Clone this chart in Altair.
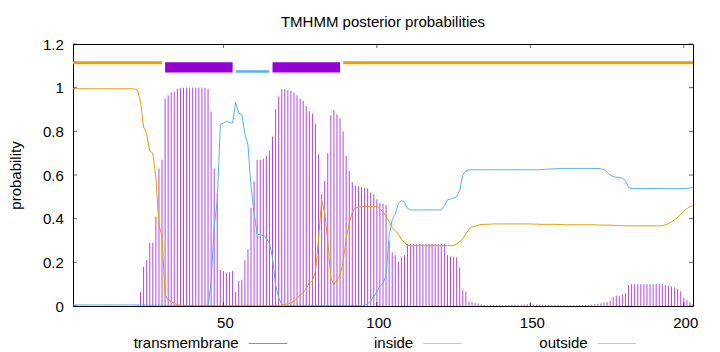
import altair as alt
import pandas as pd

# ---------------- data ----------------
positions = list(range(1, 204))

transmembrane = [
    0, 0, 0, 0, 0, 0, 0, 0, 0, 0,
    0, 0, 0, 0, 0, 0, 0, 0, 0, 0,
    0.001, 0.003, 0.065, 0.18, 0.21, 0.29, 0.29, 0.41, 0.63, 0.67,
    0.95, 0.965, 0.978, 0.982, 0.996, 0.998, 0.999, 1.0, 1.0, 1.0,
    1.0, 1.0, 1.0, 0.999, 0.995, 0.89, 0.63, 0.517, 0.165, 0.16,
    0.15, 0.155, 0.16, 0.064, 0.115, 0.12, 0.21, 0.26, 0.45, 0.57,
    0.669, 0.669, 0.675, 0.688, 0.709, 0.776, 0.901, 0.959, 0.993, 0.993,
    0.988, 0.985, 0.978, 0.965, 0.95, 0.939, 0.916, 0.892, 0.881, 0.833,
    0.695, 0.512, 0.573, 0.70, 0.874, 0.898, 0.878, 0.86, 0.799, 0.688,
    0.619, 0.566, 0.55, 0.548, 0.544, 0.541, 0.538, 0.52, 0.512, 0.489,
    0.471, 0.467, 0.462, 0.3, 0.246, 0.233, 0.203, 0.223, 0.233, 0.284,
    0.284, 0.284, 0.284, 0.284, 0.284, 0.284, 0.284, 0.284, 0.284, 0.284,
    0.284, 0.284, 0.233, 0.227, 0.227, 0.223, 0.177, 0.075, 0.066, 0.02,
    0.018, 0.015, 0.012, 0.008, 0.005, 0.004, 0.003, 0.003, 0.003, 0.003,
    0.004, 0.004, 0.005, 0.006, 0.006, 0.006, 0.006, 0.007, 0.008, 0.012,
    0.007, 0.006, 0.006, 0.006, 0.006, 0.006, 0.005, 0.005, 0.005, 0.005,
    0.004, 0.004, 0.003, 0.003, 0.003, 0.004, 0.004, 0.005, 0.005, 0.006,
    0.008, 0.01, 0.012, 0.015, 0.018, 0.025, 0.041, 0.047, 0.047, 0.053,
    0.058, 0.096, 0.1, 0.1, 0.1, 0.1, 0.1, 0.1, 0.1, 0.1,
    0.1, 0.1, 0.1, 0.096, 0.093, 0.09, 0.085, 0.079, 0.067, 0.038,
    0.026, 0.018, 0.01,
]

inside = [
    0.005, 0.005, 0.005, 0.005, 0.005, 0.005, 0.005, 0.005, 0.005, 0.005,
    0.005, 0.005, 0.005, 0.005, 0.005, 0.005, 0.005, 0.005, 0.005, 0.005,
    0.005, 0.005, 0.005, 0.005, 0.004, 0.004, 0.004, 0.004, 0.004, 0.004,
    0.003, 0.003, 0.003, 0.003, 0.003, 0.003, 0.003, 0.003, 0.003, 0.003,
    0.002, 0.002, 0.002, 0.003, 0.004, 0.107, 0.367, 0.48, 0.832, 0.838,
    0.846, 0.84, 0.838, 0.933, 0.883, 0.878, 0.788, 0.738, 0.548, 0.428,
    0.328, 0.328, 0.322, 0.31, 0.288, 0.222, 0.097, 0.039, 0.006, 0.004,
    0.003, 0.003, 0.003, 0.003, 0.003, 0.003, 0.003, 0.003, 0.003, 0.003,
    0.003, 0.003, 0.003, 0.003, 0.003, 0.003, 0.003, 0.003, 0.003, 0.003,
    0.003, 0.003, 0.003, 0.003, 0.003, 0.004, 0.01, 0.024, 0.045, 0.065,
    0.09, 0.105, 0.14, 0.32, 0.395, 0.42, 0.47, 0.482, 0.475, 0.447,
    0.44, 0.44, 0.44, 0.44, 0.44, 0.44, 0.44, 0.44, 0.44, 0.44,
    0.44, 0.46, 0.486, 0.49, 0.495, 0.5, 0.53, 0.6, 0.618, 0.624,
    0.624, 0.624, 0.624, 0.624, 0.624, 0.624, 0.624, 0.624, 0.624, 0.624,
    0.624, 0.624, 0.624, 0.624, 0.624, 0.624, 0.624, 0.624, 0.624, 0.624,
    0.624, 0.624, 0.625, 0.625, 0.626, 0.627, 0.628, 0.628, 0.629, 0.629,
    0.63, 0.63, 0.63, 0.63, 0.63, 0.63, 0.63, 0.63, 0.63, 0.63,
    0.63, 0.63, 0.628, 0.625, 0.614, 0.6, 0.593, 0.59, 0.589, 0.585,
    0.573, 0.543, 0.538, 0.538, 0.538, 0.538, 0.538, 0.538, 0.538, 0.538,
    0.538, 0.538, 0.538, 0.538, 0.538, 0.538, 0.538, 0.538, 0.538, 0.538,
    0.539, 0.541, 0.543,
]

outside = [
    0.995, 0.995, 0.995, 0.995, 0.995, 0.995, 0.995, 0.995, 0.995, 0.995,
    0.995, 0.995, 0.995, 0.995, 0.995, 0.995, 0.995, 0.995, 0.995, 0.995,
    0.994, 0.99, 0.935, 0.82, 0.79, 0.71, 0.70, 0.59, 0.37, 0.32,
    0.05, 0.03, 0.02, 0.012, 0.006, 0.003, 0.003, 0.003, 0.003, 0.003,
    0.003, 0.003, 0.003, 0.003, 0.003, 0.003, 0.003, 0.003, 0.003, 0.003,
    0.003, 0.003, 0.003, 0.003, 0.003, 0.003, 0.003, 0.003, 0.003, 0.003,
    0.003, 0.003, 0.003, 0.003, 0.003, 0.003, 0.003, 0.003, 0.005, 0.007,
    0.01, 0.015, 0.022, 0.035, 0.05, 0.06, 0.08, 0.105, 0.115, 0.16,
    0.305, 0.486, 0.427, 0.30, 0.126, 0.10, 0.12, 0.14, 0.2, 0.31,
    0.38, 0.43, 0.45, 0.452, 0.455, 0.455, 0.455, 0.455, 0.455, 0.455,
    0.445, 0.43, 0.41, 0.385, 0.36, 0.345, 0.33, 0.305, 0.29, 0.278,
    0.276, 0.276, 0.276, 0.276, 0.276, 0.276, 0.276, 0.276, 0.276, 0.276,
    0.276, 0.276, 0.276, 0.276, 0.278, 0.284, 0.295, 0.306, 0.33, 0.352,
    0.362, 0.366, 0.37, 0.373, 0.374, 0.374, 0.375, 0.376, 0.376, 0.376,
    0.376, 0.376, 0.376, 0.376, 0.376, 0.376, 0.376, 0.376, 0.376, 0.376,
    0.375, 0.375, 0.374, 0.374, 0.374, 0.374, 0.374, 0.374, 0.373, 0.373,
    0.372, 0.372, 0.372, 0.372, 0.372, 0.372, 0.372, 0.372, 0.372, 0.372,
    0.372, 0.371, 0.371, 0.37, 0.37, 0.37, 0.37, 0.369, 0.368, 0.368,
    0.367, 0.367, 0.367, 0.367, 0.367, 0.367, 0.367, 0.367, 0.367, 0.367,
    0.367, 0.367, 0.368, 0.372, 0.378, 0.385, 0.395, 0.405, 0.42, 0.435,
    0.445, 0.455, 0.46,
]

# predicted topology (bars above the plot)
seg_start = [1, 31, 54, 66, 89]
seg_end = [30, 53, 65, 88, 203]
seg_kind = ["outside", "transmembrane", "inside", "transmembrane", "outside"]

x_ticks = [50, 100, 150, 200]
y_ticks = [0, 0.2, 0.4, 0.6, 0.8, 1, 1.2]
legend_names = ["transmembrane", "inside", "outside"]
title_text = ["TMHMM posterior probabilities"]

# ---------------- styling ----------------
W, H = 620, 262
FONT = "Liberation Sans"
FS = 15
C_TM, C_IN, C_OUT = "#9400d3", "#56b4e9", "#e69f00"
colors = {"transmembrane": C_TM, "inside": C_IN, "outside": C_OUT}

df = pd.DataFrame({"pos": positions, "tm": transmembrane,
                   "inside": inside, "outside": outside})
segs = pd.DataFrame({"start": seg_start, "end": seg_end, "kind": seg_kind})
xt = pd.DataFrame({"t": x_ticks})
yt = pd.DataFrame({"t": y_ticks})

xs = alt.Scale(domain=[1, 203], nice=False, zero=False)
ys = alt.Scale(domain=[0, 1.2], nice=False, zero=True)

xaxis = alt.Axis(values=x_ticks, format="d", title=None, ticks=False, domain=False,
                 grid=False, labelFont=FONT, labelFontSize=FS, labelColor="#000",
                 labelPadding=9, labelFlush=False, labelOffset=1.5)
yaxis = alt.Axis(values=y_ticks, format="~g", title="probability", ticks=False,
                 domain=False, grid=False, labelFont=FONT, labelFontSize=FS,
                 labelColor="#000", labelPadding=9.7, titleFont=FONT,
                 titleFontSize=FS, titleFontWeight="normal", titleColor="#000",
                 titleAngle=270, titleX=-58, titleY=H / 2, titleAlign="center",
                 titleBaseline="middle")


def X(field):
    return alt.X(field, scale=xs, axis=xaxis)


def Y(field):
    return alt.Y(field, scale=ys, axis=yaxis)


impulses = alt.Chart(df).mark_rule(color=C_TM, strokeWidth=1, opacity=0.72).encode(
    x=X("pos:Q"), y=Y("tm:Q"), y2=alt.datum(0))
line_in = alt.Chart(df).mark_line(color=C_IN, strokeWidth=1).encode(
    x=X("pos:Q"), y=Y("inside:Q"))
line_out = alt.Chart(df).mark_line(color=C_OUT, strokeWidth=1).encode(
    x=X("pos:Q"), y=Y("outside:Q"))

top_out = alt.Chart(segs).transform_filter(alt.datum.kind == "outside").mark_rule(
    color=C_OUT, strokeWidth=3).encode(
    x=X("start:Q"), x2="end:Q", y=alt.YDatum(1.114, scale=ys, axis=yaxis))
top_tm = alt.Chart(segs).transform_filter(alt.datum.kind == "transmembrane").mark_rect(
    color=C_TM).encode(
    x=X("start:Q"), x2="end:Q",
    y=alt.YDatum(1.069, scale=ys, axis=yaxis), y2=alt.Y2Datum(1.116))
top_in = alt.Chart(segs).transform_filter(alt.datum.kind == "inside").mark_rule(
    color=C_IN, strokeWidth=2.7).encode(
    x=X("start:Q"), x2="end:Q", y=alt.YDatum(1.074, scale=ys, axis=yaxis))

tick_style = dict(color="#000", strokeWidth=1, opacity=0.6)
xt_bottom = alt.Chart(xt).mark_rule(**tick_style).encode(
    x=X("t:Q"), y=alt.value(H), y2=alt.value(H - 4))
xt_top = alt.Chart(xt).mark_rule(**tick_style).encode(
    x=X("t:Q"), y=alt.value(0), y2=alt.value(4))
yt_left = alt.Chart(yt).mark_rule(**tick_style).encode(
    y=Y("t:Q"), x=alt.value(0), x2=alt.value(4))
yt_right = alt.Chart(yt).mark_rule(**tick_style).encode(
    y=Y("t:Q"), x=alt.value(W), x2=alt.value(W - 4))

title_layer = alt.Chart(pd.DataFrame({"title": title_text})).mark_text(
    align="center", baseline="alphabetic", font=FONT, fontSize=FS, color="#000"
).encode(text="title:N", x=alt.value(W / 2), y=alt.value(-17.5))

legend_layers = []
for i, name in enumerate(legend_names):
    right = 165.7 + i * 174.5
    ldf = pd.DataFrame({"label": [name]})
    legend_layers.append(
        alt.Chart(ldf).mark_text(align="right", baseline="alphabetic", font=FONT,
                                 fontSize=FS, color="#000").encode(
            text="label:N", x=alt.value(right), y=alt.value(304)))
    legend_layers.append(
        alt.Chart(ldf).mark_rule(color=colors[name], strokeWidth=1, opacity=0.6).encode(
            x=alt.value(right + 10), x2=alt.value(right + 48.5), y=alt.value(299.5)))

chart = alt.layer(
    impulses, line_in, line_out, top_out, top_tm, top_in,
    xt_bottom, xt_top, yt_left, yt_right, title_layer, *legend_layers
).properties(
    width=W, height=H,
    autosize=alt.AutoSizeParams(type="none"),
    padding={"left": 73, "top": 44, "right": 27, "bottom": 46},
    background="white",
).configure_view(stroke="#000", strokeWidth=1)

chart.save("out.html", embed_options={"renderer": "svg", "actions": False})
